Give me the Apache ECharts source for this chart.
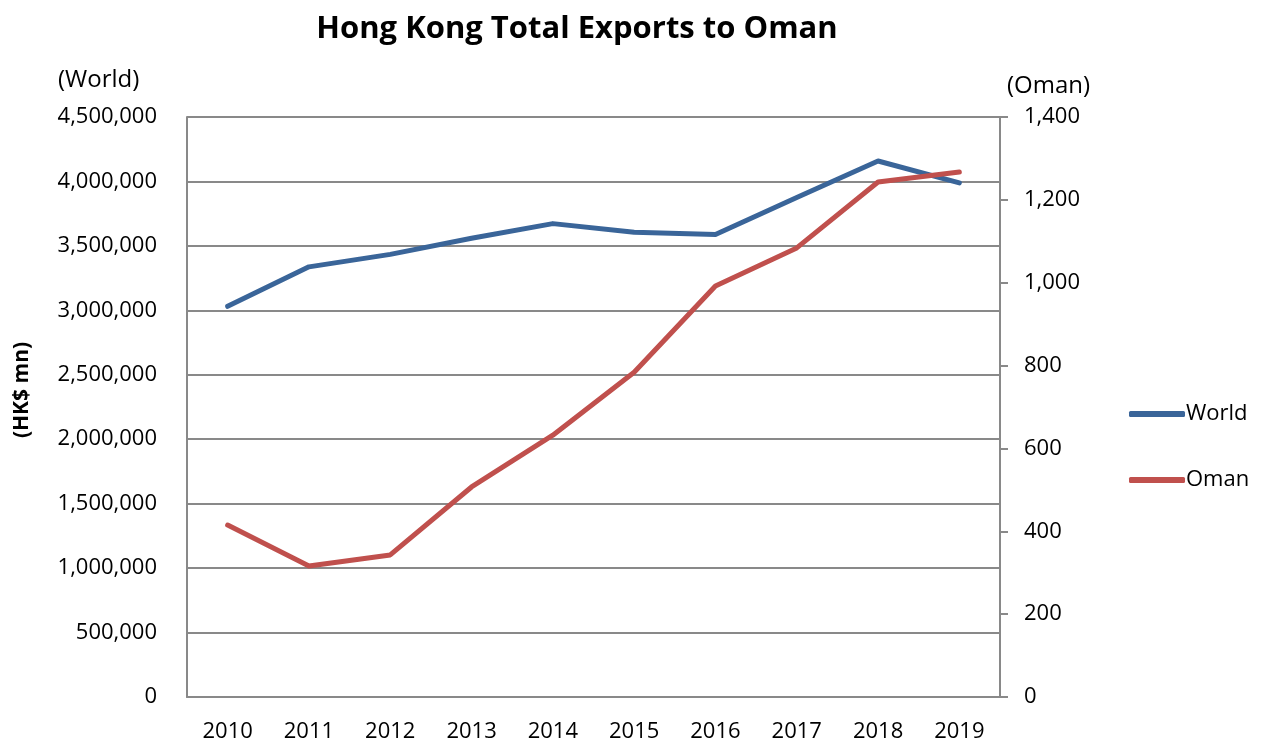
<!DOCTYPE html>
<html>
<head>
<meta charset="utf-8">
<script src="https://cdn.jsdelivr.net/npm/echarts@6/dist/echarts.min.js"></script>
<style>
  html, body { margin: 0; padding: 0; background: #fff; }
  #chart { width: 1261px; height: 744px; }
</style>
</head>
<body>
<div id="chart"></div>
<script>
// 数据
const years = ["2010", "2011", "2012", "2013", "2014", "2015", "2016", "2017", "2018", "2019"];
const worldValues = [3031019, 3337253, 3434346, 3559686, 3672751, 3605279, 3588247, 3875898, 4158498, 3988685];
const omanValues = [415, 316, 343, 507, 632, 784, 992, 1084, 1243, 1267];

const font = "'Open Sans', 'Noto Sans', sans-serif";
const gridColor = "#898989";

const chart = echarts.init(document.getElementById("chart"));

const options = {
  animation: false,
  title: {
    text: "Hong Kong Total Exports to Oman",
    left: 572,
    top: 9,
    textAlign: "center",
    textStyle: { fontFamily: font, fontSize: 31, fontWeight: "bold", color: "#000" },
  },
  grid: {
    left: 187,
    right: 261,
    top: 117,
    bottom: 47,
  },
  legend: {
    orient: "vertical",
    left: 1124,
    top: 398,
    itemGap: 44,
    itemWidth: 56,
    itemHeight: 6,
    icon: "roundRect",
    textStyle: { fontFamily: font, fontSize: 22, color: "#000", padding: [0, 0, 0, -4] },
    data: ["World", "Oman"],
  },
  graphic: [
    {
      type: "text",
      left: 58,
      top: 68,
      style: { text: "(World)", font: "24px " + font, fill: "#000" },
    },
    {
      type: "text",
      left: 1007,
      top: 74,
      style: { text: "(Oman)", font: "24px " + font, fill: "#000" },
    },
    {
      type: "text",
      x: 22,
      y: 390,
      rotation: Math.PI / 2,
      style: { text: "(HK$ mn)", font: "bold 21px " + font, fill: "#000", align: "center", verticalAlign: "middle" },
    },
  ],
  xAxis: {
    type: "category",
    data: years,
    boundaryGap: true,
    axisLine: { lineStyle: { color: gridColor, width: 2 } },
    axisTick: { show: false },
    axisLabel: { fontFamily: font, fontSize: 22, color: "#000", margin: 24 },
  },
  yAxis: [
    {
      type: "value",
      min: 0,
      max: 4500000,
      interval: 500000,
      axisLine: { show: true, lineStyle: { color: gridColor, width: 2 } },
      axisTick: { show: false },
      splitLine: { lineStyle: { color: gridColor, width: 2 } },
      axisLabel: {
        fontFamily: font,
        fontSize: 22,
        color: "#000",
        margin: 30,
        formatter: (v) => v.toLocaleString("en-US"),
      },
    },
    {
      type: "value",
      min: 0,
      max: 1400,
      interval: 200,
      position: "right",
      axisLine: { show: true, lineStyle: { color: gridColor, width: 2 } },
      axisTick: { show: true, length: 8, lineStyle: { color: gridColor, width: 2 } },
      splitLine: { show: false },
      axisLabel: {
        fontFamily: font,
        fontSize: 22,
        color: "#000",
        margin: 24,
        formatter: (v) => v.toLocaleString("en-US"),
      },
    },
  ],
  series: [
    {
      name: "World",
      type: "line",
      yAxisIndex: 0,
      data: worldValues,
      symbol: "none",
      color: "#3A6599",
      lineStyle: { color: "#3A6599", width: 5, cap: "round", join: "round" },
    },
    {
      name: "Oman",
      type: "line",
      yAxisIndex: 1,
      data: omanValues,
      symbol: "none",
      color: "#C0504D",
      lineStyle: { color: "#C0504D", width: 5, cap: "round", join: "round" },
    },
  ],
};

chart.setOption(options);

window.addEventListener("resize", () => {
  chart.resize();
});
</script>
</body>
</html>
